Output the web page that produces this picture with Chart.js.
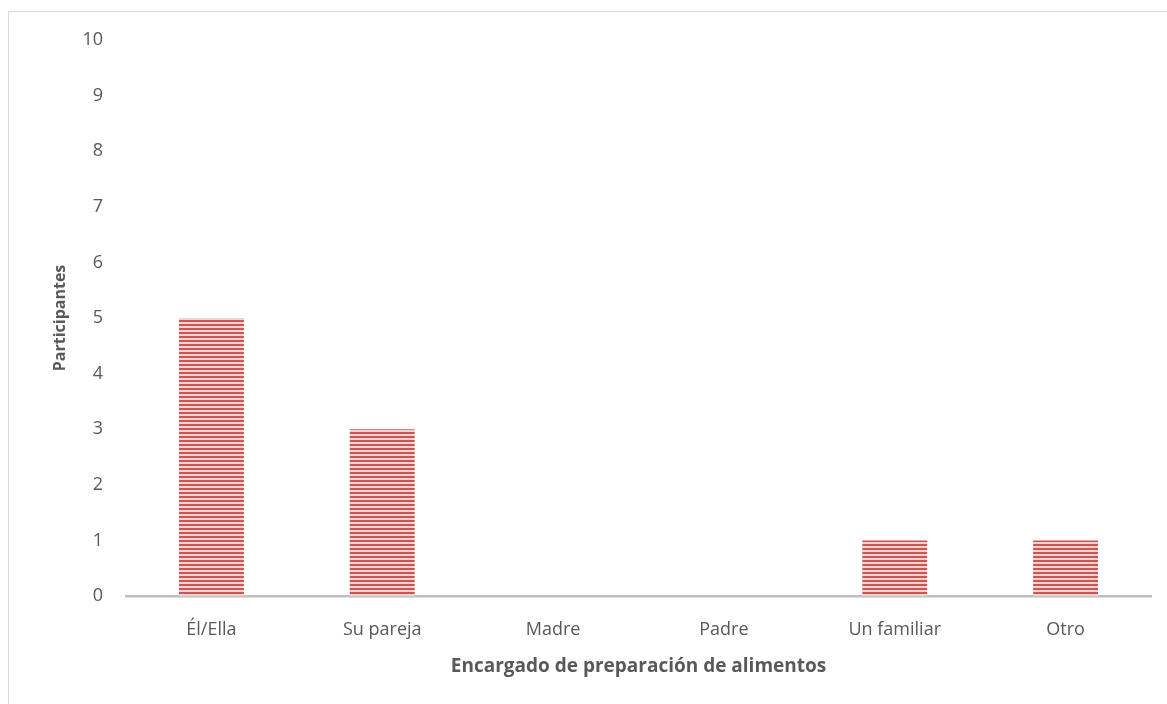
<!DOCTYPE html>
<html>
<head>
<meta charset="utf-8">
<script src="https://cdn.jsdelivr.net/npm/chart.js@4/dist/chart.umd.min.js"></script>
<style>
  html, body { margin: 0; padding: 0; background: #ffffff; }
  #marco { position: relative; width: 1167px; height: 704px; }
</style>
</head>
<body>
<div id="marco"><canvas id="grafico"></canvas></div>
<script>
// Datos del gráfico
const categorias = ['Él/Ella', 'Su pareja', 'Madre', 'Padre', 'Un familiar', 'Otro'];
const participantes = [5, 3, 0, 0, 1, 1];
const ticksY = [0, 1, 2, 3, 4, 5, 6, 7, 8, 9, 10];

// Patrón de rayas horizontales para las barras
function crearPatron() {
    const c = document.createElement('canvas');
    c.width = 4;
    c.height = 4;
    const g = c.getContext('2d');
    g.fillStyle = '#f0d2d1';
    g.fillRect(0, 0, 4, 4);
    g.fillStyle = '#cc5552';
    g.fillRect(0, 0, 4, 2);
    return g.createPattern(c, 'repeat');
}

// Marco gris claro alrededor del gráfico
const marcoPlugin = {
    id: 'marco',
    beforeDraw(chart) {
        const ctx = chart.ctx;
        ctx.save();
        ctx.strokeStyle = '#d9d9d9';
        ctx.lineWidth = 1;
        ctx.strokeRect(8.5, 11.5, 1200, 800);
        ctx.restore();
    }
};

const fuente = 'Open Sans';

const ctx = document.getElementById('grafico').getContext('2d');
new Chart(ctx, {
    type: 'bar',
    data: {
        labels: categorias,
        datasets: [{
            label: 'Participantes',
            data: participantes,
            backgroundColor: crearPatron(),
            borderWidth: 0,
            categoryPercentage: 1,
            barPercentage: 0.38
        }]
    },
    options: {
        responsive: true,
        maintainAspectRatio: false,
        animation: false,
        layout: { padding: { top: 40, right: 16, left: 0, bottom: 0 } },
        plugins: {
            legend: { display: false },
            tooltip: { enabled: false }
        },
        scales: {
            x: {
                afterFit(axis) { axis.height = 108; },
                grid: { display: false, drawTicks: false },
                border: { display: true, color: '#bfbfbf', width: 2.5 },
                ticks: { color: '#595959', font: { family: fuente, size: 18 }, padding: 23 },
                title: {
                    display: true,
                    text: 'Encargado de preparación de alimentos',
                    color: '#595959',
                    font: { family: fuente, size: 19, weight: 'bold' },
                    padding: { top: 0, bottom: 26 }
                }
            },
            y: {
                min: 0,
                max: 10,
                afterFit(axis) { axis.width = 126; },
                afterBuildTicks(axis) { axis.ticks = ticksY.map(v => ({ value: v })); },
                grid: { display: false, drawTicks: false },
                border: { display: false },
                ticks: { color: '#595959', font: { family: fuente, size: 18 }, padding: 23 },
                title: {
                    display: true,
                    text: 'Participantes',
                    color: '#595959',
                    font: { family: fuente, size: 16, weight: 'bold' },
                    padding: { top: 51, bottom: 0 }
                }
            }
        }
    },
    plugins: [marcoPlugin]
});
</script>
</body>
</html>
